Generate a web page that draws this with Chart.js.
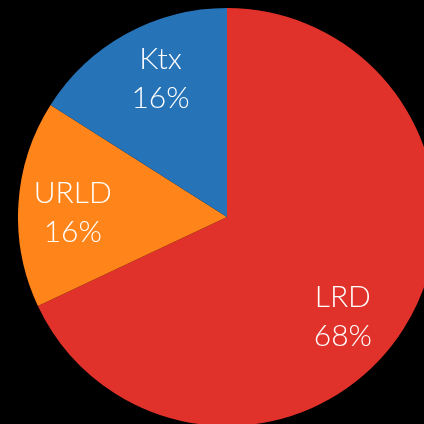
<!DOCTYPE html>
<html>
<head>
    <title>Pie</title>
    <script src="https://cdn.jsdelivr.net/npm/chart.js"></script>
    <style>
        html, body {
            margin: 0;
            padding: 0;
            background-color: #000;
            width: 424px;
            height: 424px;
            overflow: hidden;
        }
        .wrap {
            position: absolute;
            left: 18px;
            top: 8px;
            width: 418px;
            height: 418px;
        }
    </style>
</head>
<body>
    <div class="wrap">
        <canvas id="pieChart" width="418" height="418"></canvas>
    </div>

    <script>
    const labels = ['LRD', 'URLD', 'Ktx'];
    const shares = [68, 16, 16];
    const colors = ['#e0322a', '#ff851b', '#2674b7'];

    // writes "name" + "pct%" inside each slice
    const sliceLabels = {
        id: 'sliceLabels',
        afterDatasetsDraw(chart, args, opts) {
            const ctx = chart.ctx;
            const meta = chart.getDatasetMeta(0);
            ctx.save();
            ctx.fillStyle = '#fff';
            ctx.textAlign = 'center';
            ctx.textBaseline = 'middle';
            ctx.font = '300 30px Lato, "Open Sans", sans-serif';
            meta.data.forEach((arc, i) => {
                const mid = (arc.startAngle + arc.endAngle) / 2;
                const r = arc.outerRadius * 0.73;
                const nudge = opts.nudge[i] || [0, 0];
                const x = arc.x + Math.cos(mid) * r + nudge[0];
                const y = arc.y + Math.sin(mid) * r + nudge[1];
                ctx.fillText(labels[i], x, y - 19);
                ctx.fillText(shares[i] + '%', x, y + 20);
            });
            ctx.restore();
        }
    };

    new Chart(document.getElementById('pieChart'), {
        type: 'pie',
        data: {
            labels: labels,
            datasets: [{
                data: shares,
                backgroundColor: colors,
                borderWidth: 0
            }]
        },
        options: {
            responsive: false,
            animation: false,
            layout: { padding: 0 },
            plugins: {
                legend: { display: false },
                tooltip: { enabled: false },
                sliceLabels: { nudge: [[-13, 18], [-2, 5], [7, -5]] }
            }
        },
        plugins: [sliceLabels]
    });
    </script>
</body>
</html>
